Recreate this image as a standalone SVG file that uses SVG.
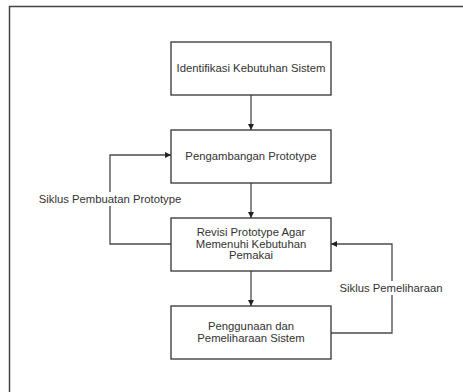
<svg xmlns="http://www.w3.org/2000/svg" width="463" height="392" viewBox="0 0 463 392">
<style>
.frame{fill:none;stroke:#444;stroke-width:1.5}
.box{fill:#fff;stroke:#333;stroke-width:1.3}
.t{font-family:"Liberation Sans",Arial,sans-serif;font-size:11.3px;fill:#333;text-anchor:middle;dominant-baseline:central}
.c{fill:none;stroke:#4a4a4a;stroke-width:1.3}
.bg{fill:#fff}
</style>
<defs>
<marker id="ah" viewBox="0 0 8 8" refX="8" refY="4" markerWidth="6" markerHeight="6" orient="auto" markerUnits="userSpaceOnUse">
<path d="M0,0 L8,4 L0,8 Z" fill="#222"/>
</marker>
</defs>
<rect width="463" height="392" fill="#fff"/>
<path class="frame" d="M9.5,400 V6.5 H470"/>
<g id="connectors">
<line class="c" x1="251" y1="95" x2="251" y2="130" marker-end="url(#ah)"/>
<line class="c" x1="251" y1="183" x2="251" y2="218" marker-end="url(#ah)"/>
<line class="c" x1="251" y1="271" x2="251" y2="306" marker-end="url(#ah)"/>
<polyline class="c" points="171,244 110,244 110,155 171,155" marker-end="url(#ah)"/>
<polyline class="c" points="331,333 392,333 392,244 331,244" marker-end="url(#ah)"/>
<rect class="bg" x="37" y="192" width="146" height="14"/>
<text class="t" x="110" y="199">Siklus Pembuatan Prototype</text>
<rect class="bg" x="339" y="281" width="106" height="14"/>
<text class="t" x="391" y="288">Siklus Pemeliharaan</text>
</g>
<g id="n1">
<rect class="box" x="171" y="42" width="160" height="53"/>
<text class="t" x="251" y="68">Identifikasi Kebutuhan Sistem</text>
</g>
<g id="n2">
<rect class="box" x="171" y="130" width="160" height="53"/>
<text class="t" x="251" y="156">Pengambangan Prototype</text>
</g>
<g id="n3">
<rect class="box" x="171" y="218" width="160" height="53"/>
<text class="t" x="251" y="232">Revisi Prototype Agar</text>
<text class="t" x="251" y="243.5">Memenuhi Kebutuhan</text>
<text class="t" x="251" y="255">Pemakai</text>
</g>
<g id="n4">
<rect class="box" x="171" y="306" width="160" height="53"/>
<text class="t" x="251" y="326">Penggunaan dan</text>
<text class="t" x="251" y="338">Pemeliharaan Sistem</text>
</g>
</svg>
